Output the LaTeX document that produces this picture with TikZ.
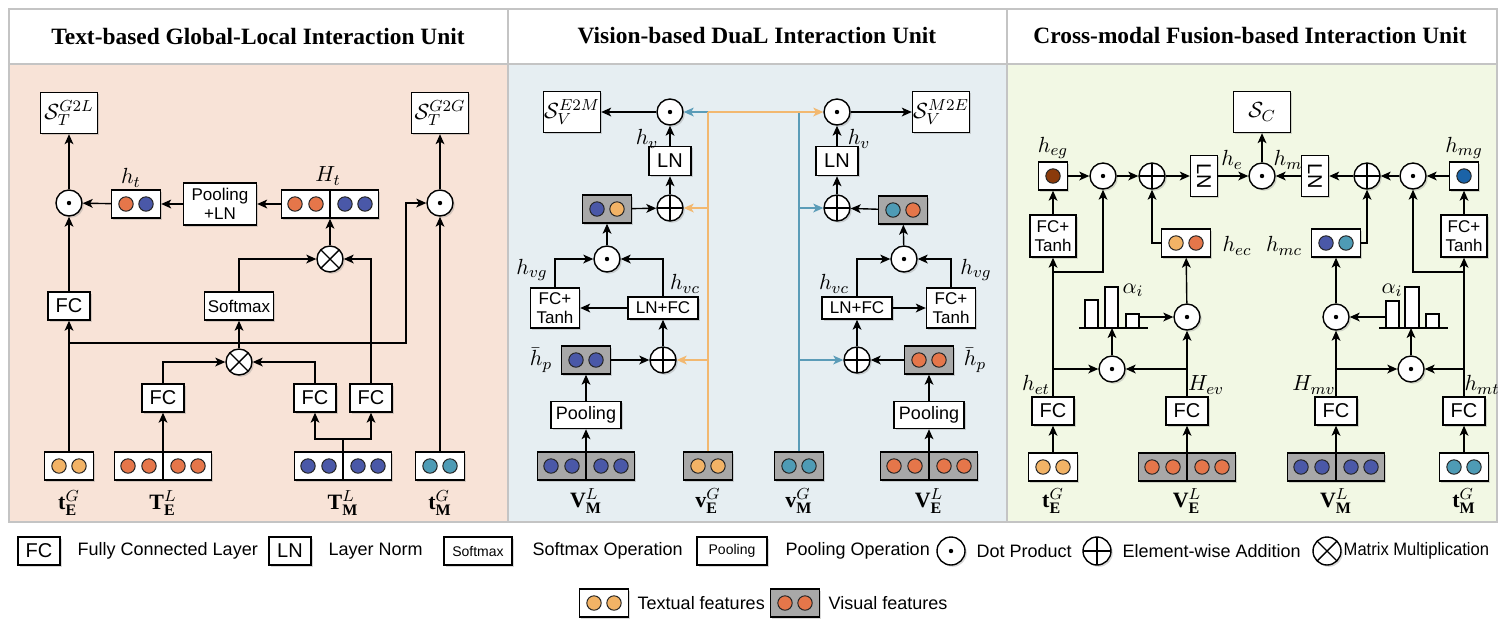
\documentclass[tikz,border=0pt]{standalone}
\usepackage{fontspec}
\setmainfont{Liberation Serif}
\setsansfont{Liberation Sans}
\usetikzlibrary{arrows.meta,shadows}

\definecolor{tcolE}{HTML}{F2B366}
\definecolor{vcolE}{HTML}{E5764A}
\definecolor{colM}{HTML}{4A58A8}
\definecolor{tcolM}{HTML}{4E9BB5}
\definecolor{hegcol}{HTML}{8A3A0B}
\definecolor{hmgcol}{HTML}{1B63A8}
\definecolor{bgA}{HTML}{F8E3D7}
\definecolor{bgB}{HTML}{E6EEF2}
\definecolor{bgC}{HTML}{F2F8E4}
\definecolor{frame}{HTML}{C4C4C4}
\definecolor{lineE}{HTML}{F2B870}
\definecolor{lineM}{HTML}{5B9CB8}
\definecolor{visbox}{HTML}{A8A8A8}

\tikzset{
  conn/.style={-{Stealth[length=5pt,width=4.4pt,inset=1.3pt]}},
  shd/.style={drop shadow={shadow xshift=0.9pt,shadow yshift=-0.9pt,opacity=0.3}},
  blk/.style={draw, fill=white, shd, inner sep=0.5pt, align=center,
    minimum width=21pt, minimum height=14pt, font=\fontsize{10}{11}\sffamily},
  blks/.style={blk, font=\fontsize{8.5}{9.5}\sffamily},
  sbox/.style={draw, fill=white, shd, inner sep=0pt,
    minimum width=28.5pt, minimum height=20.5pt, font=\fontsize{10.95}{12}\selectfont},
  op/.style={circle, draw, fill=white, shd, minimum size=13pt, inner sep=0pt},
  dotop/.style={op, path picture={\fill[black] (path picture bounding box.center) circle (1.1pt);}},
  addop/.style={op, path picture={\draw (path picture bounding box.north) -- (path picture bounding box.south)
    (path picture bounding box.west) -- (path picture bounding box.east);}},
  mulop/.style={op, path picture={\draw (path picture bounding box.north west) -- (path picture bounding box.south east)
    (path picture bounding box.north east) -- (path picture bounding box.south west);}},
  fbox/.style={draw, shd, inner sep=0pt, minimum width=24.5pt, minimum height=14pt},
  ball/.style={draw=black!85, line width=0.5pt},
  lab/.style={inner sep=0pt, font=\fontsize{10.95}{12}\selectfont},
  head/.style={font=\fontsize{11.7}{13}\bfseries},
  leg/.style={anchor=west, inner sep=0pt, font=\fontsize{9}{10}\sffamily},
}

% feature vectors: two dots, or four dots split in two halves
\newcommand{\pairbox}[5]{%
  \node[fbox, fill=#3] (#1) at (#2) {};
  \filldraw[ball, fill=#4] ([xshift=-5pt]#1.center) circle (3.6pt);
  \filldraw[ball, fill=#5] ([xshift=5pt]#1.center) circle (3.6pt);
}
\newcommand{\quadbox}[4]{%
  \node[fbox, fill=#3, minimum width=48.5pt] (#1) at (#2) {};
  \draw (#1.north) -- (#1.south);
  \foreach \dx in {-17.5pt,-7pt,7.5pt,17.5pt}
    \filldraw[ball, fill=#4] ([xshift=\dx]#1.center) circle (3.6pt);
}

\begin{document}
\begin{tikzpicture}[x=0.5pt, y=-0.5pt, line width=0.7pt]
\useasboundingbox (0,0) rectangle (1498,618);

% panels
\draw[draw=frame, fill=white] (9,9) rectangle (508,64);
\draw[draw=frame, fill=white] (508,9) rectangle (1007,64);
\draw[draw=frame, fill=white] (1007,9) rectangle (1497,64);
\draw[draw=frame, fill=bgA] (9,64) rectangle (508,522);
\draw[draw=frame, fill=bgB] (508,64) rectangle (1007,522);
\draw[draw=frame, fill=bgC] (1007,64) rectangle (1497,522);

\node[head] (title1) at (258,36) {Text-based Global-Local Interaction Unit};
\node[head] (title2) at (757,36) {Vision-based DuaL Interaction Unit};
\node[head] (title3) at (1250,36) {Cross-modal Fusion-based Interaction Unit};

%%% text unit
\node[sbox] (sG2L) at (69,113) {$\mathcal{S}_T^{G2L}$};
\node[sbox] (sG2G) at (440,113) {$\mathcal{S}_T^{G2G}$};
\node[dotop] (d1) at (69,203) {};
\node[dotop] (d2) at (440,203) {};
\pairbox{ht}{136,204}{white}{vcolE}{colM}
\node[blks, minimum width=36.5pt, minimum height=21pt] (pool) at (220,204) {Pooling\\+LN};
\node[fbox, fill=white, minimum width=48.5pt] (Ht) at (330,204) {};
\draw (Ht.north) -- (Ht.south);
\foreach \dx/\c in {-17.5pt/vcolE,-7pt/vcolE,7.5pt/colM,17.5pt/colM}
  \filldraw[ball, fill=\c] ([xshift=\dx]Ht.center) circle (3.6pt);
\node[lab] (lht) at (131,178) {$h_t$};
\node[lab] (lHt) at (328,176) {$H_t$};
\node[mulop] (ot1) at (330,259) {};
\node[blk] (fc1) at (69,306) {FC};
\node[blks, minimum width=34.5pt] (soft) at (239,306) {Softmax};
\node[mulop] (ot2) at (239,362) {};
\node[blk] (fc2) at (163,398) {FC};
\node[blk] (fc3) at (315,398) {FC};
\node[blk] (fc4) at (371,398) {FC};
\pairbox{tEG}{69,466}{white}{tcolE}{tcolE}
\quadbox{TEL}{163,466}{white}{vcolE}
\quadbox{TML}{343,466}{white}{colM}
\pairbox{tMG}{440,466}{white}{tcolM}{tcolM}
\node[lab] (ltEG) at (69,503) {$\mathbf{t}_{\mathbf{E}}^{G}$};
\node[lab] (lTEL) at (163,503) {$\mathbf{T}_{\mathbf{E}}^{L}$};
\node[lab] (lTML) at (343,503) {$\mathbf{T}_{\mathbf{M}}^{L}$};
\node[lab] (ltMG) at (440,503) {$\mathbf{t}_{\mathbf{M}}^{G}$};

\coordinate (j1) at (69,343);
\coordinate (c1) at (406,343);
\coordinate (j2) at (343,439);
\draw[conn] (tEG) -- (fc1);
\draw[conn] (fc1) -- (d1);
\draw[conn] (d1) -- (sG2L);
\draw[conn] (ht) -- (d1);
\draw[conn] (pool) -- (ht);
\draw[conn] (Ht) -- (pool);
\draw[conn] (ot1) -- (Ht);
\draw[conn] (soft.north) |- (ot1);
\draw[conn] (fc4.north) |- (ot1);
\draw[conn] (ot2) -- (soft);
\draw[conn] (fc2.north) |- (ot2);
\draw[conn] (fc3.north) |- (ot2);
\draw[conn] (TEL) -- (fc2);
\draw (TML.north) -- (j2);
\draw[conn] (j2) -| (fc3);
\draw[conn] (j2) -| (fc4);
\draw[conn] (j1) -- (c1) |- (d2);
\draw[conn] (tMG) -- (d2);
\draw[conn] (d2) -- (sG2G);

%%% vision unit
\node[sbox] (sE2M) at (572,112) {$\mathcal{S}_V^{E2M}$};
\node[dotop] (dv1) at (670,112) {};
\node[blk, minimum height=14.5pt] (ln1) at (670,161) {LN};
\node[addop] (op1) at (670,208) {};
\pairbox{fb1}{607,209}{visbox}{colM}{tcolE}
\node[dotop] (dv2) at (607,259) {};
\node[blks, minimum width=24.5pt, minimum height=20pt] (ft1) at (555,308) {FC+\\Tanh};
\node[blks, minimum width=35pt, minimum height=11pt] (lf1) at (663,308) {LN+FC};
\node[addop] (op2) at (663,360) {};
\pairbox{hp1}{586,360}{visbox}{colM}{colM}
\node[blks, minimum width=35pt, minimum height=13.5pt, font=\fontsize{9}{10}\sffamily] (pl1) at (586,415) {Pooling};
\quadbox{VML}{586,466}{visbox}{colM}
\pairbox{vEG}{708,466}{visbox}{tcolE}{tcolE}

\node[sbox] (sM2E) at (941,112) {$\mathcal{S}_V^{M2E}$};
\node[dotop] (dv3) at (837,112) {};
\node[blk, minimum height=14.5pt] (ln2) at (837,161) {LN};
\node[addop] (op3) at (837,208) {};
\pairbox{fb2}{903,210}{visbox}{tcolM}{vcolE}
\node[dotop] (dv4) at (904,259) {};
\node[blks, minimum width=35pt, minimum height=11pt] (lf2) at (857,308) {LN+FC};
\node[blks, minimum width=24.5pt, minimum height=20pt] (ft2) at (951,308) {FC+\\Tanh};
\node[addop] (op4) at (857,360) {};
\pairbox{hp2}{929,360}{visbox}{vcolE}{vcolE}
\node[blks, minimum width=35pt, minimum height=13.5pt, font=\fontsize{9}{10}\sffamily] (pl2) at (929,415) {Pooling};
\quadbox{VEL}{929,466}{visbox}{vcolE}
\pairbox{vMG}{799,466}{visbox}{tcolM}{tcolM}

\node[lab] (lhv1) at (647,139) {$h_v$};
\node[lab] (lhvg1) at (532,270) {$h_{vg}$};
\node[lab] (lhvc1) at (685,284) {$h_{vc}$};
\node[lab] (lhp1) at (541,360) {$\bar{h}_p$};
\node[lab] (lhv2) at (859,139) {$h_v$};
\node[lab] (lhvc2) at (834,284) {$h_{vc}$};
\node[lab] (lhvg2) at (976,270) {$h_{vg}$};
\node[lab] (lhp2) at (975,360) {$\bar{h}_p$};
\node[lab] (lVML) at (586,501) {$\mathbf{V}_{\mathbf{M}}^{L}$};
\node[lab] (lvEG) at (708,501) {$\mathbf{v}_{\mathbf{E}}^{G}$};
\node[lab] (lvMG) at (799,501) {$\mathbf{v}_{\mathbf{M}}^{G}$};
\node[lab] (lVEL) at (929,501) {$\mathbf{V}_{\mathbf{E}}^{L}$};

\draw[conn] (VML) -- (pl1);
\draw[conn] (pl1) -- (hp1);
\draw[conn] (hp1) -- (op2);
\draw[conn] (op2) -- (lf1);
\draw[conn] (lf1) -- (ft1);
\draw[conn] (ft1.north) |- (dv2);
\draw[conn] (lf1.north) |- (dv2);
\draw[conn] (dv2) -- (fb1);
\draw[conn] (fb1) -- (op1);
\draw[conn] (op1) -- (ln1);
\draw[conn] (ln1) -- (dv1);
\draw[conn] (dv1) -- (sE2M);

\draw[conn] (VEL) -- (pl2);
\draw[conn] (pl2) -- (hp2);
\draw[conn] (hp2) -- (op4);
\draw[conn] (op4) -- (lf2);
\draw[conn] (lf2) -- (ft2);
\draw[conn] (lf2.north) |- (dv4);
\draw[conn] (ft2.north) |- (dv4);
\draw[conn] (dv4) -- (fb2);
\draw[conn] (fb2) -- (op3);
\draw[conn] (op3) -- (ln2);
\draw[conn] (ln2) -- (dv3);
\draw[conn] (dv3) -- (sM2E);

% global vectors crossing over
\coordinate (oT) at (708,112);
\coordinate (oM) at (708,208);
\coordinate (oB) at (708,360);
\coordinate (bT) at (799,112);
\coordinate (bM) at (799,208);
\coordinate (bB) at (799,360);
\draw[lineM] (vMG) -- (bT);
\draw[lineM, conn] (bT) -- (dv1);
\draw[lineM, conn] (bM) -- (op3);
\draw[lineM, conn] (bB) -- (op4);
\draw[lineE] (vEG) -- (oT);
\draw[lineE, conn] (oT) -- (dv3);
\draw[lineE, conn] (oM) -- (op1);
\draw[lineE, conn] (oB) -- (op2);

%%% fusion unit
\node[sbox] (sC) at (1262,112) {$\mathcal{S}_C$};
\node[fbox, fill=white, minimum width=14.5pt] (heg) at (1053,176) {};
\filldraw[ball, fill=hegcol] (heg.center) circle (3.6pt);
\node[dotop] (dc1) at (1103,176) {};
\node[addop] (pc1) at (1152,176) {};
\node[blk, rotate=-90, minimum width=20.5pt, minimum height=13.5pt] (lnA) at (1204,176) {LN};
\node[dotop] (dc2) at (1262,176) {};
\node[blk, rotate=-90, minimum width=20.5pt, minimum height=13.5pt] (lnB) at (1315,176) {LN};
\node[addop] (pc2) at (1367,176) {};
\node[dotop] (dc3) at (1413,176) {};
\node[fbox, fill=white, minimum width=14.5pt] (hmg) at (1464,176) {};
\filldraw[ball, fill=hmgcol] (hmg.center) circle (3.6pt);
\node[blks, minimum width=23pt, minimum height=21pt] (ftA) at (1053,236) {FC+\\Tanh};
\node[blks, minimum width=23pt, minimum height=21pt] (ftB) at (1464,236) {FC+\\Tanh};
\pairbox{hec}{1186,243}{white}{tcolE}{vcolE}
\pairbox{hmc}{1336,243}{white}{colM}{tcolM}
\node[dotop] (dc4) at (1187,317) {};
\node[dotop] (dc5) at (1112,369) {};
\node[dotop] (dc6) at (1336,317) {};
\node[dotop] (dc7) at (1411,369) {};
\node[blk] (fcA) at (1053,411) {FC};
\node[blk] (fcB) at (1187,411) {FC};
\node[blk] (fcC) at (1336,411) {FC};
\node[blk] (fcD) at (1464,411) {FC};
\pairbox{tEG2}{1053,467}{white}{tcolE}{tcolE}
\quadbox{VEL2}{1187,467}{visbox}{vcolE}
\quadbox{VML2}{1336,467}{visbox}{colM}
\pairbox{tMG2}{1464,467}{white}{tcolM}{tcolM}

% attention weights
\draw[fill=white] (1085,328) rectangle (1098,300);
\draw[fill=white] (1105,328) rectangle (1118,287);
\draw[fill=white] (1126,328) rectangle (1139,314);
\draw (1079,328) -- (1148,328);
\draw[fill=white] (1386,328) rectangle (1399,301);
\draw[fill=white] (1405,328) rectangle (1419,287);
\draw[fill=white] (1426,328) rectangle (1439,314);
\draw (1379,328) -- (1448,328);

\node[lab] (lheg) at (1053,148) {$h_{eg}$};
\node[lab] (lhmg) at (1464,148) {$h_{mg}$};
\node[lab] (lhe) at (1232,160) {$h_e$};
\node[lab] (lhm) at (1288,160) {$h_m$};
\node[lab] (lhec) at (1237,246) {$h_{ec}$};
\node[lab] (lhmc) at (1284,246) {$h_{mc}$};
\node[lab] (lal1) at (1133,290) {$\alpha_i$};
\node[lab] (lal2) at (1392,290) {$\alpha_i$};
\node[lab] (lhet) at (1036,385) {$h_{et}$};
\node[lab] (lHev) at (1206,385) {$H_{ev}$};
\node[lab] (lHmv) at (1314,385) {$H_{mv}$};
\node[lab] (lhmt) at (1482,385) {$h_{mt}$};
\node[lab] (ltEG2) at (1053,501) {$\mathbf{t}_{\mathbf{E}}^{G}$};
\node[lab] (lVEL2) at (1187,501) {$\mathbf{V}_{\mathbf{E}}^{L}$};
\node[lab] (lVML2) at (1336,501) {$\mathbf{V}_{\mathbf{M}}^{L}$};
\node[lab] (ltMG2) at (1464,501) {$\mathbf{t}_{\mathbf{M}}^{G}$};

\coordinate (eU) at (1053,272);
\coordinate (eL) at (1053,369);
\coordinate (vL) at (1187,369);
\coordinate (aE) at (1112,328);
\coordinate (aEo) at (1139,317);
\coordinate (mU) at (1464,272);
\coordinate (mtL) at (1464,369);
\coordinate (mvL) at (1336,369);
\coordinate (aM) at (1411,328);
\coordinate (aMo) at (1386,317);
\draw[conn] (tEG2) -- (fcA);
\draw[conn] (fcA) -- (ftA);
\draw[conn] (ftA) -- (heg);
\draw[conn] (heg) -- (dc1);
\draw[conn] (eU) -| (dc1);
\draw[conn] (dc1) -- (pc1);
\draw[conn] (hec.west) -| (pc1);
\draw[conn] (pc1) -- (lnA);
\draw[conn] (lnA) -- (dc2);
\draw[conn] (dc2) -- (sC);
\draw[conn] (lnB) -- (dc2);
\draw[conn] (pc2) -- (lnB);
\draw[conn] (hmc.east) -| (pc2);
\draw[conn] (dc3) -- (pc2);
\draw[conn] (mU) -| (dc3);
\draw[conn] (hmg) -- (dc3);
\draw[conn] (ftB) -- (hmg);
\draw[conn] (fcD) -- (ftB);
\draw[conn] (tMG2) -- (fcD);
\draw[conn] (VEL2) -- (fcB);
\draw[conn] (fcB) -- (dc4);
\draw[conn] (dc4) -- (hec);
\draw[conn] (eL) -- (dc5);
\draw[conn] (vL) -- (dc5);
\draw[conn] (dc5) -- (aE);
\draw[conn] (aEo) -- (dc4);
\draw[conn] (VML2) -- (fcC);
\draw[conn] (fcC) -- (dc6);
\draw[conn] (dc6) -- (hmc);
\draw[conn] (mvL) -- (dc7);
\draw[conn] (mtL) -- (dc7);
\draw[conn] (dc7) -- (aM);
\draw[conn] (aMo) -- (dc6);

%%% legend
\node[blk] (kFC) at (39,551) {FC};
\node[leg] (kFCt) at (77,551) {Fully Connected Layer};
\node[blk] (kLN) at (290,551) {LN};
\node[leg] (kLNt) at (328,551) {Layer Norm};
\node[blk, minimum width=34pt, font=\fontsize{7}{8}\sffamily] (kSM) at (478,551) {Softmax};
\node[leg] (kSMt) at (532,551) {Softmax Operation};
\node[blk, minimum width=35pt, font=\fontsize{7}{8}\sffamily] (kPL) at (732,551) {Pooling};
\node[leg] (kPLt) at (785,551) {Pooling Operation};
\node[dotop, minimum size=14pt] (kDot) at (951,551) {};
\node[leg] (kDott) at (976,551) {Dot Product};
\node[addop, minimum size=14pt] (kAdd) at (1097,551) {};
\node[leg] (kAddt) at (1122,551) {Element-wise Addition};
\node[mulop, minimum size=14pt] (kMul) at (1327,551) {};
\node[leg] (kMult) at (1343,551) {\scalebox{0.92}[1]{Matrix Multiplication}};
\pairbox{kTx}{604,603}{white}{tcolE}{tcolE}
\node[leg] (kTxt) at (637,603) {Textual features};
\pairbox{kVs}{795,603}{visbox}{vcolE}{vcolE}
\node[leg] (kVst) at (828,603) {Visual features};
\end{tikzpicture}
\end{document}
